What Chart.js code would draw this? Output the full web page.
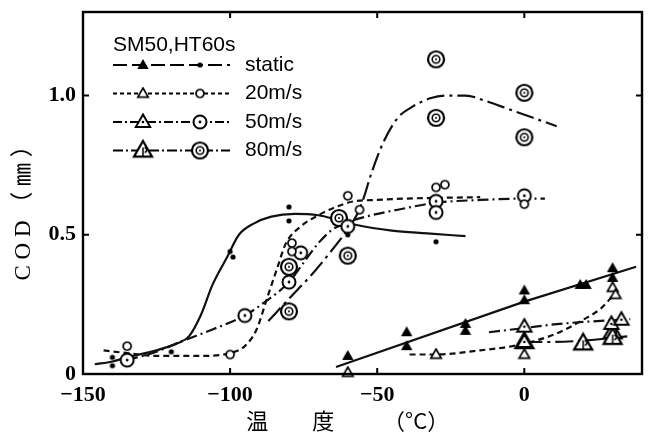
<!DOCTYPE html>
<html>
<head>
<meta charset="utf-8">
<script src="https://cdn.jsdelivr.net/npm/chart.js@4.4.1/dist/chart.umd.min.js"></script>
<style>
  html, body { margin: 0; padding: 0; background: #fff; }
</style>
</head>
<body>
<canvas id="chart" width="650" height="438"></canvas>
<script>
// values (temperature in °C, COD in mm)
const seriesNames = ['static', '20m/s', '50m/s', '80m/s'];
const groupTitle = 'SM50,HT60s';
const xTicks = [-150, -100, -50, 0];
const yTicks = [0, 0.5, 1.0];

// static : small dots + filled triangles
const staticDotX = [-140, -140, -120, -100, -99, -80, -80, -60, -30];
const staticDotY = [0.06, 0.03, 0.08, 0.44, 0.42, 0.60, 0.55, 0.50, 0.475];
const staticTriX = [-60, -40, -40, -20, -20, 0, 0, 19, 21, 30, 30];
const staticTriY = [0.065, 0.15, 0.10, 0.18, 0.155, 0.30, 0.265, 0.32, 0.32, 0.38, 0.345];
const staticCurveX = [-146, -140, -135, -125, -118, -114, -110, -106, -101, -97, -92, -86, -78, -70, -64, -57, -45, -33, -20];
const staticCurveY = [0.035, 0.045, 0.06, 0.085, 0.11, 0.135, 0.21, 0.32, 0.42, 0.50, 0.54, 0.565, 0.575, 0.57, 0.555, 0.535, 0.515, 0.505, 0.495];
const staticLineX = [-64, 0, 38];
const staticLineY = [0.025, 0.26, 0.385];

// 20 m/s : small open circles + small open triangles
const v20CircX = [-135, -100, -79, -79, -60, -56, -30, -27, 0];
const v20CircY = [0.10, 0.07, 0.47, 0.44, 0.64, 0.59, 0.67, 0.68, 0.61];
const v20TriX = [-60, -30, 0, 30, 31];
const v20TriY = [0.005, 0.07, 0.07, 0.31, 0.285];
const v20CurveX = [-143, -135, -125, -110, -100, -95, -91, -87.5, -84, -81, -76, -70, -64, -58, -50, -40, -15];
const v20CurveY = [0.085, 0.075, 0.065, 0.065, 0.075, 0.10, 0.16, 0.27, 0.38, 0.47, 0.53, 0.57, 0.60, 0.62, 0.625, 0.63, 0.635];
const v20LineX = [-39, -30, -15, -4, 4, 12, 20, 26, 30];
const v20LineY = [0.07, 0.07, 0.085, 0.10, 0.12, 0.15, 0.195, 0.235, 0.28];

// 50 m/s : dotted circles + medium triangles
const v50CircX = [-135, -95, -80, -76, -60, -30, -30, 0];
const v50CircY = [0.05, 0.21, 0.33, 0.435, 0.53, 0.62, 0.58, 0.64];
const v50TriX = [0, 0, 29.6, 33];
const v50TriY = [0.17, 0.115, 0.18, 0.195];
const v50CurveX = [-135, -125, -117, -106, -95, -88, -80, -75, -70, -65, -60, -52, -43, -30, -15, 0, 7];
const v50CurveY = [0.05, 0.08, 0.115, 0.16, 0.21, 0.26, 0.33, 0.40, 0.47, 0.52, 0.545, 0.57, 0.59, 0.615, 0.625, 0.63, 0.63];
const v50LineX = [-12, 0, 10, 20, 30, 36];
const v50LineY = [0.15, 0.165, 0.178, 0.187, 0.193, 0.197];

// 80 m/s : double circles + large triangles
const v80CircX = [-80, -80, -63, -60, -30, -30, 0, 0];
const v80CircY = [0.385, 0.225, 0.56, 0.425, 1.13, 0.92, 1.01, 0.85];
const v80TriX = [0, 20, 30, 30];
const v80TriY = [0.115, 0.11, 0.15, 0.13];
const v80CurveX = [-87, -80, -72, -65, -60, -57, -55, -52, -48, -43, -38, -32, -27, -20, -13, -5, 3, 11];
const v80CurveY = [0.19, 0.27, 0.36, 0.45, 0.52, 0.57, 0.62, 0.72, 0.83, 0.92, 0.96, 0.99, 1.0, 1.0, 0.98, 0.95, 0.92, 0.89];
const v80LineX = [0, 10, 20, 35];
const v80LineY = [0.115, 0.115, 0.12, 0.135];

const pts = (xs, ys) => xs.map((x, i) => ({ x, y: ys[i] }));

// marker glyphs
function marker(size, draw) {
  const c = document.createElement('canvas');
  c.width = size; c.height = size;
  const g = c.getContext('2d');
  g.translate(size / 2, size / 2);
  g.strokeStyle = '#000'; g.fillStyle = '#000';
  draw(g);
  return c;
}
function triPath(g, r) {
  g.beginPath();
  g.moveTo(0, -r);
  g.lineTo(r * 0.95, r * 0.65);
  g.lineTo(-r * 0.95, r * 0.65);
  g.closePath();
}
function circ(g, r) { g.beginPath(); g.arc(0, 0, r, 0, Math.PI * 2); }

const mkStaticTri = marker(14, g => { triPath(g, 6); g.fill(); });
const mkDot = marker(8, g => { circ(g, 2.6); g.fill(); });
const mk20Circ = marker(12, g => { circ(g, 4); g.fillStyle = '#fff'; g.fill(); g.lineWidth = 1.7; g.stroke(); });
const mk20Tri = marker(14, g => { triPath(g, 5.5); g.fillStyle = '#fff'; g.fill(); g.lineWidth = 1.7; g.stroke(); });
const mk50Circ = marker(18, g => {
  circ(g, 6.5); g.fillStyle = '#fff'; g.fill(); g.lineWidth = 2; g.stroke();
  g.fillStyle = '#000'; circ(g, 1.4); g.fill();
});
const mk50Tri = marker(20, g => {
  triPath(g, 7.5); g.fillStyle = '#fff'; g.fill(); g.lineWidth = 2; g.stroke();
  g.fillStyle = '#000'; circ(g, 1.3); g.fill();
});
const mk80Circ = marker(22, g => {
  circ(g, 8); g.fillStyle = '#fff'; g.fill(); g.lineWidth = 2.2; g.stroke();
  circ(g, 3.8); g.lineWidth = 1.6; g.stroke();
  g.fillStyle = '#000'; circ(g, 1); g.fill();
});
const mk80Tri = marker(24, g => {
  triPath(g, 9.5); g.fillStyle = '#fff'; g.fill(); g.lineWidth = 2.2; g.stroke();
  g.lineWidth = 1.5;
  g.beginPath(); g.moveTo(0, -3); g.lineTo(0, 6); g.stroke();
  g.beginPath(); g.arc(1.5, -0.5, 2.2, -Math.PI / 2, Math.PI / 2); g.stroke();
});

function markerSet(data, img) {
  return { data, pointStyle: img, pointRadius: 6, showLine: false, order: 1, clip: 10 };
}
function curveSet(data, dash, smooth) {
  return {
    data, showLine: true, pointRadius: 0, borderColor: '#111', borderWidth: 2.2,
    borderDash: dash, cubicInterpolationMode: smooth ? 'monotone' : 'default',
    tension: 0, order: 2, clip: 0
  };
}

const dashStatic = [];
const dash20 = [6, 4];
const dash50 = [11, 4, 2, 4];
const dash80 = [18, 5, 3, 5];

const datasets = [
  markerSet(pts(staticDotX, staticDotY), mkDot),
  markerSet(pts(staticTriX, staticTriY), mkStaticTri),
  markerSet(pts(v20CircX, v20CircY), mk20Circ),
  markerSet(pts(v20TriX, v20TriY), mk20Tri),
  markerSet(pts(v50CircX, v50CircY), mk50Circ),
  markerSet(pts(v50TriX, v50TriY), mk50Tri),
  markerSet(pts(v80CircX, v80CircY), mk80Circ),
  markerSet(pts(v80TriX, v80TriY), mk80Tri),
  curveSet(pts(staticCurveX, staticCurveY), dashStatic, true),
  curveSet(pts(staticLineX, staticLineY), dashStatic, false),
  curveSet(pts(v20CurveX, v20CurveY), dash20, true),
  curveSet(pts(v20LineX, v20LineY), dash20, true),
  curveSet(pts(v50CurveX, v50CurveY), dash50, true),
  curveSet(pts(v50LineX, v50LineY), dash50, true),
  curveSet(pts(v80CurveX, v80CurveY), dash80, true),
  curveSet(pts(v80LineX, v80LineY), dash80, true),
];

// box frame with inward ticks
const framePlugin = {
  id: 'frame',
  afterDatasetsDraw(chart) {
    const { ctx, chartArea: a, scales: { x, y } } = chart;
    ctx.save();
    ctx.strokeStyle = '#000';
    ctx.setLineDash([]);
    ctx.lineWidth = 2.4;
    ctx.strokeRect(a.left, a.top, a.right - a.left, a.bottom - a.top);
    ctx.lineWidth = 2;
    ctx.beginPath();
    xTicks.forEach(v => {
      const px = x.getPixelForValue(v);
      ctx.moveTo(px, a.bottom); ctx.lineTo(px, a.bottom - 6);
      ctx.moveTo(px, a.top); ctx.lineTo(px, a.top + 6);
    });
    yTicks.forEach(v => {
      const py = y.getPixelForValue(v);
      ctx.moveTo(a.left, py); ctx.lineTo(a.left + 6, py);
      ctx.moveTo(a.right, py); ctx.lineTo(a.right - 6, py);
    });
    ctx.stroke();
    ctx.restore();
  }
};

// legend drawn inside the plot, upper left
const legendStyles = [
  { dash: [14, 5], tri: mkStaticTri, circ: mkDot },
  { dash: [4, 3], tri: mk20Tri, circ: mk20Circ },
  { dash: [9, 3, 2, 3], tri: mk50Tri, circ: mk50Circ },
  { dash: [10, 3, 2, 3], tri: mk80Tri, circ: mk80Circ },
];
const legendPlugin = {
  id: 'innerLegend',
  afterDraw(chart) {
    const { ctx, chartArea: a } = chart;
    const x0 = a.left + 30;
    ctx.save();
    ctx.fillStyle = '#000';
    ctx.font = '21px "Liberation Sans", sans-serif';
    ctx.textBaseline = 'middle';
    ctx.textAlign = 'left';
    ctx.fillText(groupTitle, x0, a.top + 33);
    seriesNames.forEach((name, i) => {
      const s = legendStyles[i];
      const yy = a.top + 53 + i * 28.5;
      ctx.strokeStyle = '#000';
      ctx.lineWidth = 2.2;
      ctx.setLineDash(s.dash);
      ctx.beginPath(); ctx.moveTo(x0, yy); ctx.lineTo(x0 + 117, yy); ctx.stroke();
      ctx.setLineDash([]);
      ctx.drawImage(s.tri, x0 + 30 - s.tri.width / 2, yy - s.tri.height / 2);
      ctx.drawImage(s.circ, x0 + 87 - s.circ.width / 2, yy - s.circ.height / 2);
      ctx.fillText(name, x0 + 132, yy);
    });
    ctx.restore();
  }
};

const tickFont = { family: '"Liberation Serif", serif', size: 22, weight: 'bold' };

new Chart(document.getElementById('chart'), {
  type: 'scatter',
  data: { datasets },
  options: {
    responsive: false,
    devicePixelRatio: 1,
    animation: false,
    layout: { padding: { top: 12, right: 8, left: 0, bottom: 0 } },
    plugins: { legend: { display: false }, tooltip: { enabled: false } },
    scales: {
      x: {
        type: 'linear', min: -150, max: 40,
        afterFit: s => { s.height = 64; s.paddingLeft = 0; s.paddingRight = 0; },
        afterBuildTicks: s => { s.ticks = xTicks.map(v => ({ value: v })); },
        grid: { display: false, drawTicks: false },
        border: { display: false },
        ticks: {
          color: '#000', font: tickFont, padding: 8, maxRotation: 0,
          callback: v => (v < 0 ? '\u2212' + Math.abs(v) : String(v))
        },
        title: {
          display: true, text: '温　　度　　 （°C）      ', color: '#000',
          font: { family: '"Noto Sans CJK JP", "Liberation Serif", serif', size: 22 },
          padding: { top: 3 }
        }
      },
      y: {
        type: 'linear', min: 0, max: 1.3,
        afterFit: s => { s.width = 83; s.paddingTop = 0; s.paddingBottom = 0; },
        afterBuildTicks: s => { s.ticks = yTicks.map(v => ({ value: v })); },
        grid: { display: false, drawTicks: false },
        border: { display: false },
        ticks: {
          color: '#000', font: tickFont, padding: 7,
          callback: v => (v === 0 ? '0' : v.toFixed(1))
        },
        title: {
          display: true, text: 'C O D （ ㎜ ）     ', color: '#000',
          font: { family: '"Liberation Serif", "Noto Sans CJK JP", serif', size: 23 },
          padding: { top: 10 }
        }
      }
    }
  },
  plugins: [framePlugin, legendPlugin]
});
</script>
</body>
</html>
